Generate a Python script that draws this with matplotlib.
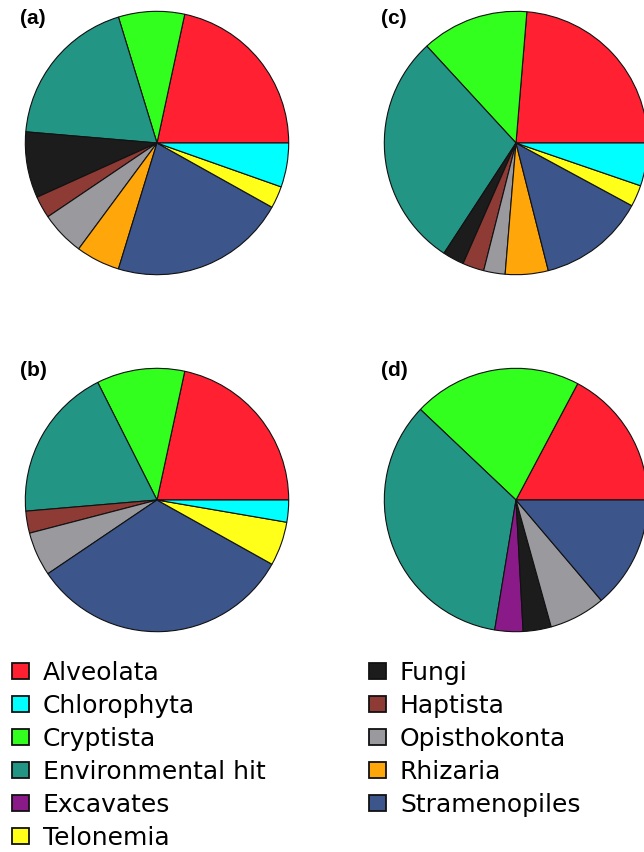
import matplotlib
matplotlib.use("Agg")
import matplotlib.pyplot as plt
from matplotlib.patches import Patch

# taxonomic groups (legend order) and their colours
groups = ["Alveolata", "Chlorophyta", "Cryptista", "Environmental hit", "Excavates",
          "Telonemia", "Fungi", "Haptista", "Opisthokonta", "Rhizaria", "Stramenopiles"]
colors = ["#ff2131", "#00ffff", "#33ff1f", "#239585", "#8a1a88",
          "#ffff1a", "#1c1c1c", "#8e3a35", "#9a9a9e", "#ffa60a", "#3c558a"]

# counts of OTUs per group for each panel (same order as groups)
counts_a = [8, 2, 3, 7, 0, 1, 3, 1, 2, 2, 8]
counts_b = [8, 1, 4, 7, 0, 2, 0, 1, 2, 0, 12]
counts_c = [9, 2, 5, 11, 0, 1, 1, 1, 1, 2, 5]
counts_d = [5, 0, 6, 10, 1, 0, 1, 0, 2, 0, 4]

# order the slices go round the pie (anticlockwise from 3 o'clock)
slice_order = ["Alveolata", "Cryptista", "Environmental hit", "Excavates", "Fungi",
               "Haptista", "Opisthokonta", "Rhizaria", "Stramenopiles",
               "Telonemia", "Chlorophyta"]

W, H = 644, 852
fig = plt.figure(figsize=(W / 100, H / 100), dpi=100)


def pie_axes(cx, cy, r):
    # axes placed by pixel centre / radius
    return fig.add_axes([(cx - r) / W, 1 - (cy + r) / H, 2 * r / W, 2 * r / H])


def draw_pie(ax, counts):
    lookup = dict(zip(groups, zip(counts, colors)))
    vals, cols = [], []
    for g in slice_order:
        v, c = lookup[g]
        if v > 0:
            vals.append(v)
            cols.append(c)
    ax.pie(vals, colors=cols, startangle=0, counterclock=True, radius=1,
           wedgeprops=dict(edgecolor="#111111", linewidth=0.8))
    ax.set_xlim(-1.01, 1.01)
    ax.set_ylim(-1.01, 1.01)
    ax.set_aspect("equal")
    ax.axis("off")


panels = [("(a)", counts_a, 157, 143, 20, 19),
          ("(b)", counts_b, 157, 500, 20, 371),
          ("(c)", counts_c, 516, 143, 381, 19),
          ("(d)", counts_d, 516, 500, 381, 371)]
for lab, cnt, cx, cy, tx, ty in panels:
    ax = pie_axes(cx, cy, 133)
    draw_pie(ax, cnt)
    fig.text(tx / W, 1 - ty / H, lab, fontsize=15, fontweight="bold",
             family="Liberation Sans", va="center", ha="left")

handles = [Patch(facecolor=c, edgecolor="#111111", linewidth=1.3) for c in colors]
fig.legend(handles, groups, ncol=2, loc="upper left",
           bbox_to_anchor=(12 / W, 1 - 661 / H), frameon=False,
           fontsize=18, handlelength=0.68, handleheight=0.62,
           handletextpad=0.55, labelspacing=0.36, columnspacing=4.15,
           borderpad=0, borderaxespad=0)

fig.savefig("out.png", dpi=100)
